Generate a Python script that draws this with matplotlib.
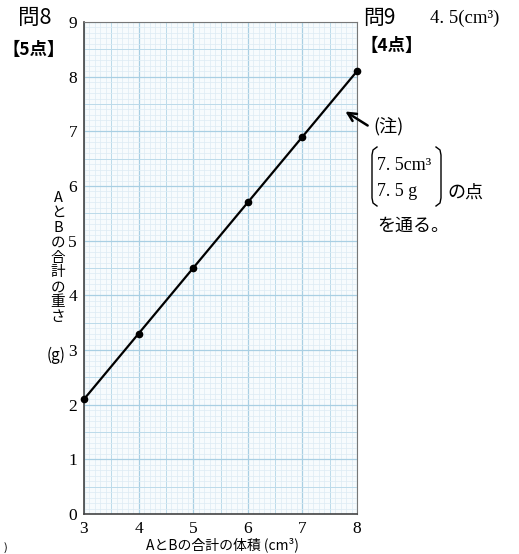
import matplotlib
matplotlib.use("Agg")
import matplotlib.pyplot as plt
import numpy as np
from matplotlib.lines import Line2D

plt.rcParams['font.family'] = ['Noto Sans CJK JP', 'DejaVu Sans']

# data
volume = [3, 4, 5, 6, 7, 8]
weight = [2.1, 3.3, 4.5, 5.7, 6.9, 8.1]
x_ticks = [3, 4, 5, 6, 7, 8]
y_ticks = [0, 1, 2, 3, 4, 5, 6, 7, 8, 9]

W, H = 519, 554
fig = plt.figure(figsize=(W / 100, H / 100), dpi=100)

def fx(x):
    return x / W

def fy(y):
    return 1 - y / H

ax = fig.add_axes([fx(84), fy(514), fx(357) - fx(84), fy(22) - fy(514)])
ax.set_xlim(3, 8)
ax.set_ylim(0, 9)
ax.set_facecolor('#f7fbfd')

# graph paper grid
def gridstyle(v):
    r = round(v * 10)
    if r % 10 == 0:
        return '#a9cfe3', 0.9
    elif r % 5 == 0:
        return '#bcdaea', 0.7
    return '#dcebf4', 0.5

for v in np.arange(3, 8.001, 0.1):
    c, lw = gridstyle(v)
    ax.axvline(v, color=c, lw=lw, zorder=0)
for v in np.arange(0, 9.001, 0.1):
    c, lw = gridstyle(v)
    ax.axhline(v, color=c, lw=lw, zorder=0)

for s in ['top', 'right']:
    ax.spines[s].set_color('#777777')
    ax.spines[s].set_linewidth(0.8)
for s in ['left', 'bottom']:
    ax.spines[s].set_color('#444444')
    ax.spines[s].set_linewidth(1.2)

ax.plot(volume, weight, color='black', lw=1.6, marker='o', ms=4.5, zorder=3, clip_on=False)

ax.set_xticks(x_ticks)
ax.set_yticks(y_ticks)
ax.set_xticklabels([str(v) for v in x_ticks])
ax.set_yticklabels([str(v) for v in y_ticks])
ax.tick_params(length=0, pad=5)
for lab in ax.get_xticklabels() + ax.get_yticklabels():
    lab.set_family('Liberation Serif')
    lab.set_fontsize(12.5)

# x label
fig.text(fx(222), fy(545), 'AとBの合計の体積 (cm³)', ha='center', va='center', fontsize=10,
         family=['Noto Sans CJK JP', 'DejaVu Sans'])

# y label (vertical writing)
ychars = ['A', 'と', 'B', 'の', '合', '計', 'の', '重', 'さ']
fig.text(fx(58), fy(191), '\n'.join(ychars), ha='center', va='top', fontsize=10.5, linespacing=1.08)
fig.text(fx(56), fy(355), '(g)', ha='center', va='center', fontsize=11)

# headings
fig.text(fx(18), fy(18), '問8', ha='left', va='center', fontsize=15.5)
fig.text(fx(3), fy(50), '【5点】', ha='left', va='center', fontsize=12.5, fontweight='bold')
fig.text(fx(363), fy(18), '問9', ha='left', va='center', fontsize=15)
fig.text(fx(430), fy(18), '4. 5(cm³)', ha='left', va='center', fontsize=13.5, family='Liberation Serif')
fig.text(fx(360), fy(46), '【4点】', ha='left', va='center', fontsize=12.5, fontweight='bold')

# note with arrow
fig.add_artist(matplotlib.patches.FancyArrowPatch(
    (fx(370), fy(127)), (fx(343), fy(110)), transform=fig.transFigure,
    arrowstyle='->', mutation_scale=15, lw=1.8, color='black'))
fig.text(fx(373), fy(126), '(注)', ha='left', va='center', fontsize=13)

# brackets
def bracket(xs, ys):
    fig.add_artist(Line2D([fx(v) for v in xs], [fy(v) for v in ys], transform=fig.transFigure,
                          color='black', lw=1.0))
bracket([377, 373, 372, 372, 373, 377], [147, 150, 155, 198, 203, 206])
bracket([436, 440, 441, 441, 440, 436], [147, 150, 155, 198, 203, 206])
fig.text(fx(377), fy(165), '7. 5cm³', ha='left', va='center', fontsize=13, family='Liberation Serif')
fig.text(fx(377), fy(191), '7. 5 g', ha='left', va='center', fontsize=13, family='Liberation Serif')
fig.text(fx(447), fy(193), 'の点', ha='left', va='center', fontsize=13)
fig.text(fx(377), fy(226), 'を通る。', ha='left', va='center', fontsize=13)

fig.text(fx(4), fy(548), ')', ha='left', va='center', fontsize=8)

fig.savefig('out.png', dpi=100)
